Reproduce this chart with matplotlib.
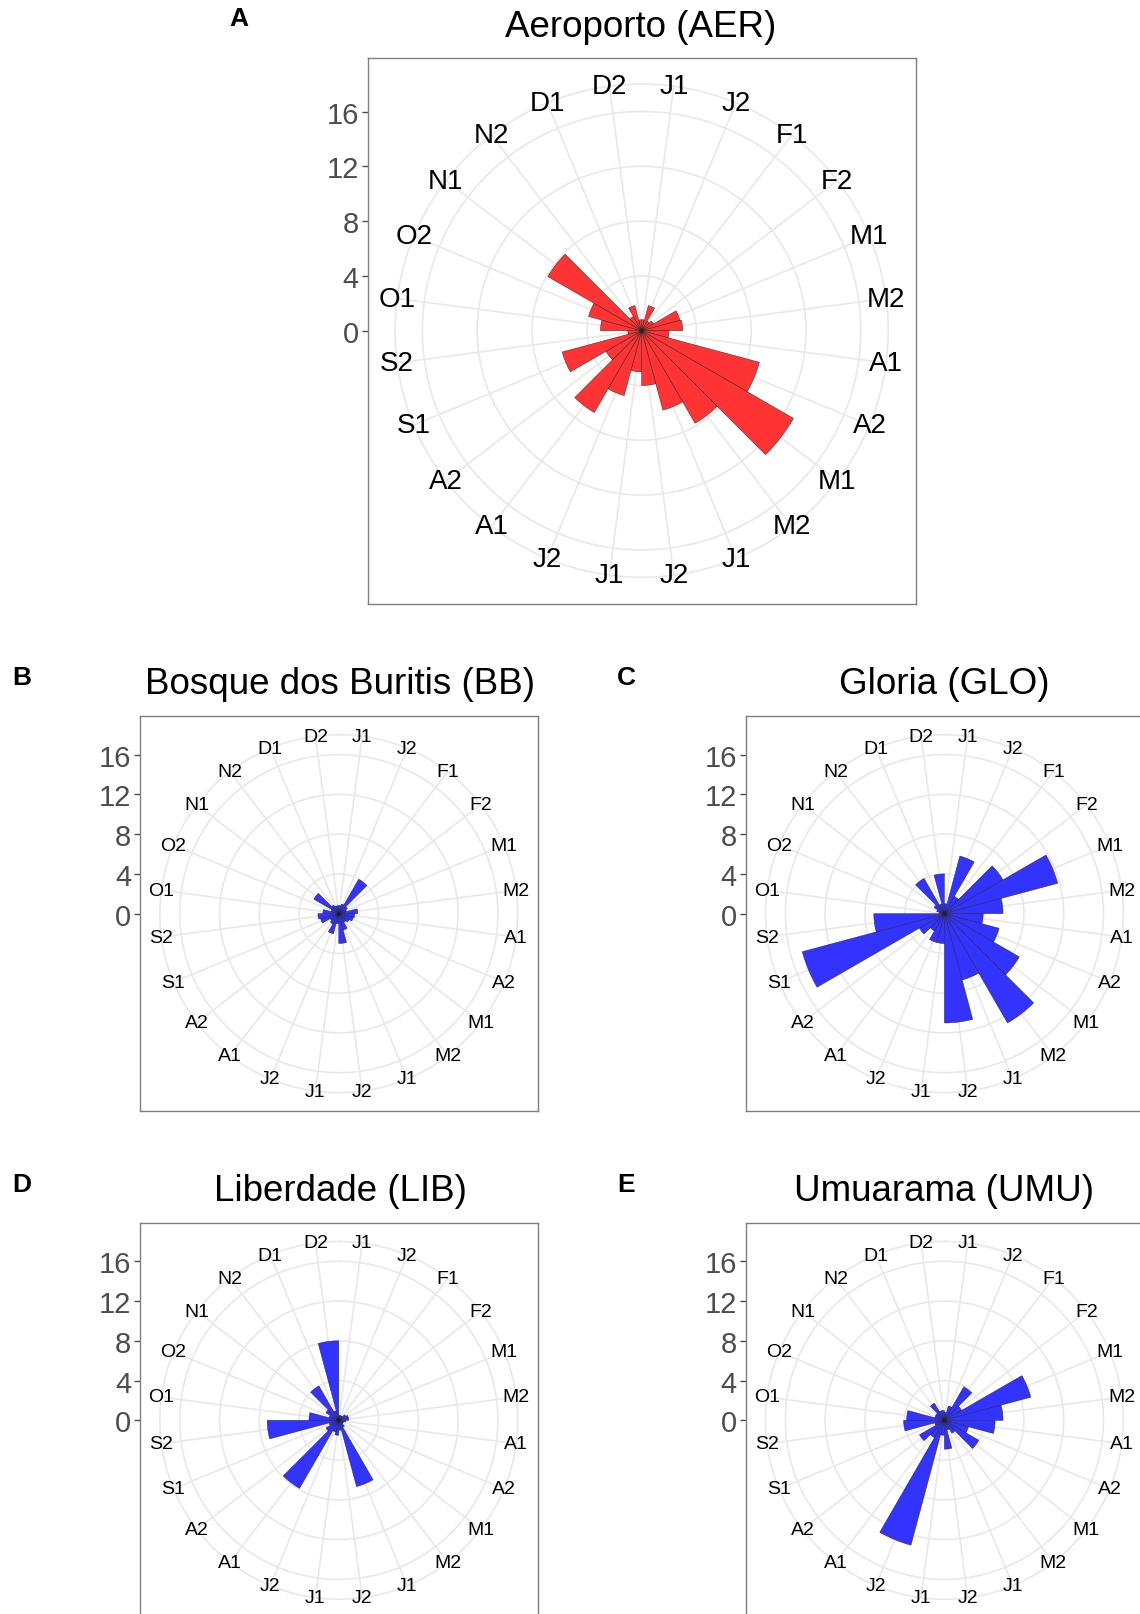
import numpy as np
import matplotlib
matplotlib.use("Agg")
import matplotlib.pyplot as plt

plt.rcParams['font.family'] = ['Liberation Sans', 'DejaVu Sans']

# half-month periods, clockwise from the top
periods = ["J1", "J2", "F1", "F2", "M1", "M2", "A1", "A2", "M1", "M2", "J1", "J2",
           "J1", "J2", "A1", "A2", "S1", "S2", "O1", "O2", "N1", "N2", "D1", "D2"]

r_ticks = [0, 4, 8, 12, 16]

aer = [0.8, 1.9, 0.8, 1.0, 2.9, 3.0, 2.0, 8.9, 12.8, 7.8, 6.0, 4.0,
       3.0, 4.9, 6.9, 3.0, 6.0, 1.0, 3.0, 4.0, 7.9, 1.2, 1.9, 0.8]
bb = [0.8, 1.0, 4.0, 1.0, 0.8, 1.9, 1.6, 1.5, 1.2, 1.0, 1.7, 3.0,
      1.0, 2.1, 1.2, 1.0, 1.9, 2.1, 1.6, 0.8, 2.9, 1.0, 0.8, 0.8]
glo = [1.0, 6.0, 2.0, 6.8, 11.8, 5.9, 3.9, 5.7, 8.7, 12.7, 6.9, 11.0,
       3.0, 3.0, 2.0, 2.9, 14.8, 7.1, 0.5, 0.8, 1.2, 4.1, 1.0, 4.0]
lib = [0.5, 0.5, 0.5, 0.8, 1.0, 1.0, 0.7, 0.5, 0.5, 0.8, 6.9, 1.0,
       1.5, 1.2, 7.9, 1.5, 1.0, 7.2, 3.0, 1.0, 1.5, 4.0, 1.0, 8.0]
umu = [0.8, 1.5, 3.9, 2.0, 9.0, 5.9, 5.1, 2.5, 4.0, 1.5, 1.0, 2.9,
       1.5, 13.0, 2.0, 2.9, 1.0, 4.1, 3.8, 1.0, 1.0, 2.0, 1.0, 1.0]

W, H = 1140, 1615
fig = plt.figure(figsize=(W / 100, H / 100), dpi=100)


def frac(l, t, w, h):
    return [l / W, 1 - (t + h) / H, w / W, h / H]


panels = [
    dict(title="Aeroporto (AER)", letter="A", vals=aer, color="#FF3333",
         box=(367.6, 58.7, 548, 546), title_xy=(640.6, 27.8), letter_xy=(239, 19), lab_fs=20),
    dict(title="Bosque dos Buritis (BB)", letter="B", vals=bb, color="#3333FF",
         box=(140, 716.9, 397.6, 395.5), title_xy=(340, 685), letter_xy=(22, 678), lab_fs=14),
    dict(title="Gloria (GLO)", letter="C", vals=glo, color="#3333FF",
         box=(745.6, 716.9, 397.6, 395.5), title_xy=(944.5, 685), letter_xy=(626, 678), lab_fs=14),
    dict(title="Liberdade (LIB)", letter="D", vals=lib, color="#3333FF",
         box=(140, 1223.6, 397.6, 395.5), title_xy=(340, 1191.7), letter_xy=(22, 1185), lab_fs=14),
    dict(title="Umuarama (UMU)", letter="E", vals=umu, color="#3333FF",
         box=(745.6, 1223.6, 397.6, 395.5), title_xy=(944.5, 1191.7), letter_xy=(626, 1185), lab_fs=14),
]

theta_deg = 7.5 + 15 * np.arange(len(periods))
theta = np.radians(theta_deg)
grid_col = "#E8E8E8"

for p in panels:
    l, t, w, h = p["box"]
    ppu = 0.4 * w / 16.0
    bx = fig.add_axes(frac(l, t, w, h))
    bx.set_zorder(0)
    hw, hh = w / 2 / ppu, h / 2 / ppu
    bx.set_xlim(-hw, hw)
    bx.set_ylim(-hh, hh)
    bx.set_xticks([])
    bx.set_yticks(r_ticks)
    bx.set_yticklabels([str(v) for v in r_ticks], fontsize=21, color="#4D4D4D")
    bx.tick_params(axis="y", length=4.3, width=1, color="#4D4D4D", pad=2)
    for s in bx.spines.values():
        s.set_color("#7F7F7F")
        s.set_linewidth(1)

    cx, cy = l + w / 2, t + h / 2
    R = 18 * ppu
    ax = fig.add_axes(frac(cx - R, cy - R, 2 * R, 2 * R), projection="polar")
    ax.set_zorder(1)
    ax.set_facecolor("none")
    ax.set_theta_zero_location("N")
    ax.set_theta_direction(-1)
    ax.set_ylim(0, 18)
    ax.set_yticks([4, 8, 12, 16])
    ax.set_yticklabels([])
    ax.set_xticks(theta)
    ax.set_xticklabels([])
    ax.tick_params(length=0)
    ax.grid(True, color=grid_col, linewidth=1.2)
    ax.spines["polar"].set_color(grid_col)
    ax.spines["polar"].set_linewidth(1.2)
    ax.set_axisbelow(True)

    ax.bar(theta, p["vals"], width=np.radians(15), bottom=0, color=p["color"],
           edgecolor="#1A1A1A", linewidth=0.3, align="center", zorder=3)

    for th, lab in zip(theta, periods):
        ax.text(th, 18, lab, ha="center", va="center", fontsize=p["lab_fs"],
                color="black", clip_on=False, zorder=4)

    fig.text(p["title_xy"][0] / W, 1 - p["title_xy"][1] / H, p["title"],
             ha="center", va="center", fontsize=26.5, color="black")
    fig.text(p["letter_xy"][0] / W, 1 - p["letter_xy"][1] / H, p["letter"],
             ha="center", va="center", fontsize=19, fontweight="bold", color="black")

fig.savefig("out.png", dpi=100, facecolor="white")
